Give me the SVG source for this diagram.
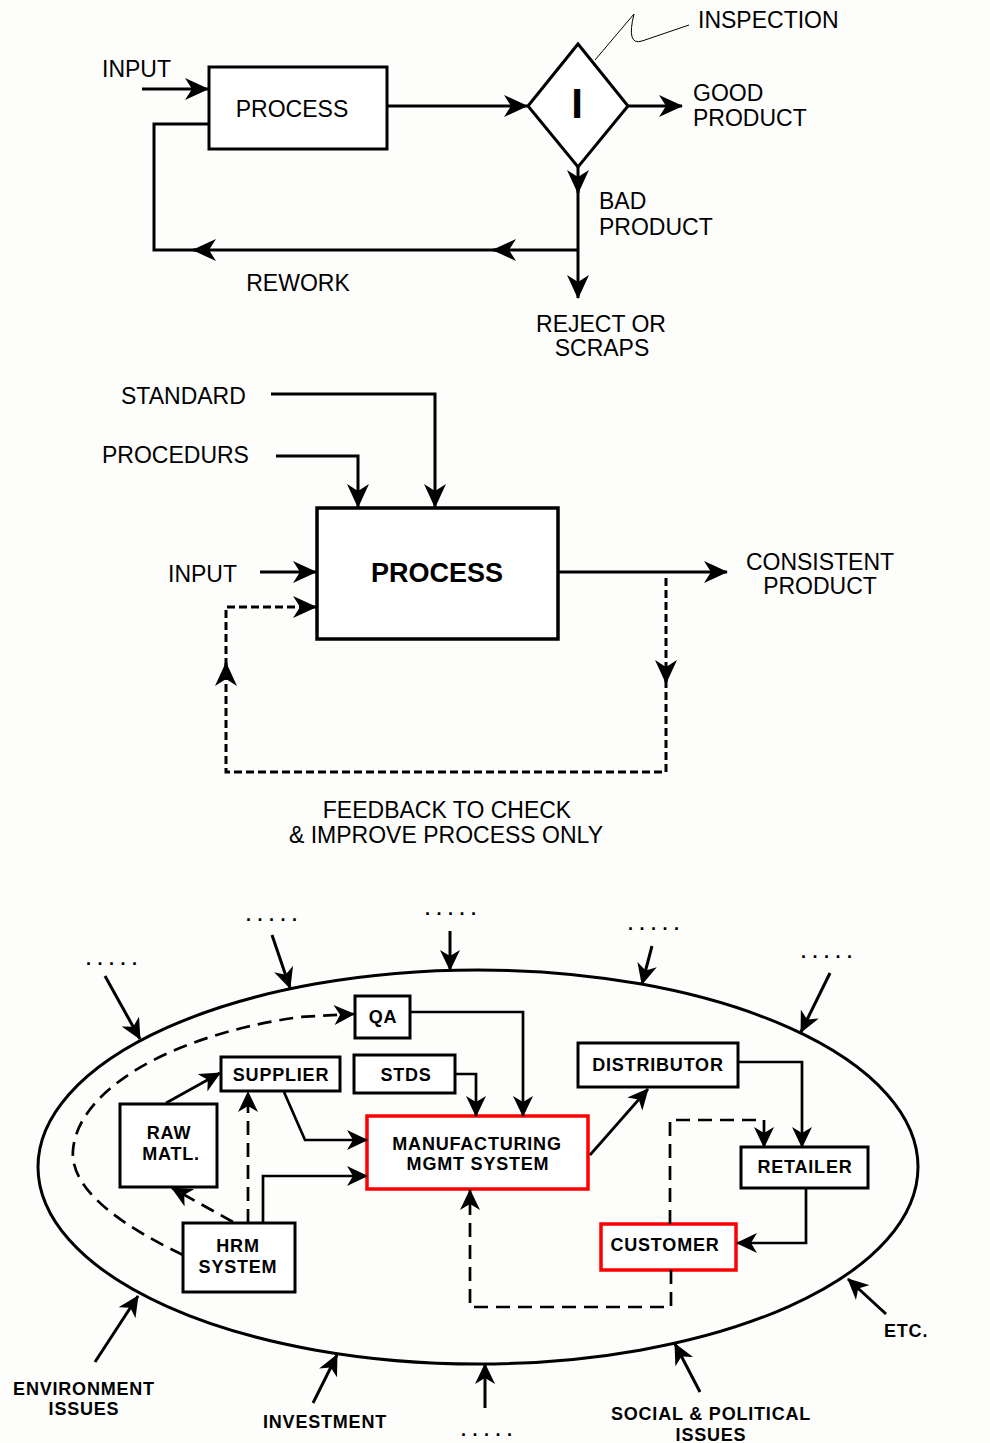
<svg xmlns="http://www.w3.org/2000/svg" width="990" height="1443" viewBox="0 0 990 1443">
<style>
.bg{fill:#fdfdfc}
.t{font-family:"Liberation Sans",Arial,sans-serif;font-size:23px;fill:#000}
.tb{font-family:"Liberation Sans",Arial,sans-serif;font-size:27px;font-weight:bold;fill:#000}
.s{font-family:"Liberation Sans",Arial,sans-serif;font-size:18px;font-weight:bold;letter-spacing:0.8px;fill:#000}
.dots{font-family:"Liberation Sans",Arial,sans-serif;font-size:18px;font-weight:bold;letter-spacing:6.5px;fill:#000}
.m{text-anchor:middle}
.ln{fill:none;stroke:#000;stroke-width:3}
.ln2{fill:none;stroke:#000;stroke-width:2.7}
.dash{fill:none;stroke:#000;stroke-width:3;stroke-dasharray:8,4}
.dash2{fill:none;stroke:#000;stroke-width:2.7;stroke-dasharray:14,8}
.box{fill:#fff;stroke:#000;stroke-width:3}
.rbox{fill:#fff;stroke:#f00;stroke-width:3.5}
.thin{fill:none;stroke:#000;stroke-width:1}
</style>
<defs>
<marker id="a" viewBox="0 0 24 22" markerWidth="24" markerHeight="22" refX="23" refY="11" orient="auto" markerUnits="userSpaceOnUse">
<path d="M0,0 L24,11 L0,22 L7,11 Z" fill="#000"/>
</marker>
<marker id="b" viewBox="0 0 21 20" markerWidth="21" markerHeight="20" refX="20" refY="10" orient="auto" markerUnits="userSpaceOnUse">
<path d="M0,0 L21,10 L0,20 L6,10 Z" fill="#000"/>
</marker>
</defs>
<rect class="bg" x="0" y="0" width="990" height="1443"/>

<!-- ===== TOP: inspection ===== -->
<g id="top-labels">
<text class="t" x="102" y="77">INPUT</text>
<text class="t" x="698" y="28">INSPECTION</text>
<text class="t" x="693" y="101">GOOD</text>
<text class="t" x="693" y="126">PRODUCT</text>
<text class="t" x="599" y="209">BAD</text>
<text class="t" x="599" y="235">PRODUCT</text>
<text class="t m" x="298" y="291">REWORK</text>
<text class="t m" x="601" y="332">REJECT OR</text>
<text class="t m" x="602" y="356">SCRAPS</text>
</g>
<g id="top-process">
<rect class="box" x="209" y="67" width="178" height="82"/>
<text class="t m" x="292" y="117">PROCESS</text>
</g>
<g id="top-inspection">
<polygon class="box" points="528,106 578,44 628,106 578,167"/>
<text x="577" y="118" font-family="Liberation Sans, Arial, sans-serif" font-size="42" font-weight="bold" text-anchor="middle">I</text>
</g>
<g id="top-connectors">
<path class="ln" d="M142,89 L208,89" marker-end="url(#a)"/>
<path class="ln" d="M387,106 L527,106" marker-end="url(#a)"/>
<path class="ln" d="M628,106 L682,106" marker-end="url(#a)"/>
<path class="ln" d="M578,167 L578,193" marker-end="url(#a)"/>
<path class="ln" d="M578,190 L578,298" marker-end="url(#a)"/>
<path class="ln" d="M578,250 L493,250" marker-end="url(#a)"/>
<path class="ln" d="M496,250 L193,250" marker-end="url(#a)"/>
<path class="ln" d="M196,250 L154,250 L154,124 L209,124"/>
<path class="thin" d="M595,60 L634,14 Q626,46 642,41 L689,25"/>
</g>

<!-- ===== MIDDLE: consistent process ===== -->
<g id="mid-labels">
<text class="t" x="121" y="404">STANDARD</text>
<text class="t" x="102" y="463">PROCEDURS</text>
<text class="t" x="168" y="582">INPUT</text>
<text class="t m" x="820" y="570">CONSISTENT</text>
<text class="t m" x="820" y="594">PRODUCT</text>
<text class="t m" x="447" y="818">FEEDBACK TO CHECK</text>
<text class="t m" x="446" y="843">&amp; IMPROVE PROCESS ONLY</text>
</g>
<g id="mid-process">
<rect class="box" x="317" y="508" width="241" height="131" style="stroke-width:3.5"/>
<text class="tb m" x="437" y="582">PROCESS</text>
</g>
<g id="mid-connectors">
<path class="ln" d="M271,394 L435,394 L435,507" marker-end="url(#a)"/>
<path class="ln" d="M276,456 L358,456 L358,507" marker-end="url(#a)"/>
<path class="ln" d="M260,572 L316,572" marker-end="url(#a)"/>
<path class="ln" d="M558,572 L727,572" marker-end="url(#a)"/>
<path class="dash" d="M666,578 L666,683" marker-end="url(#a)"/>
<path class="dash" d="M666,680 L666,772 L226,772 L226,663" marker-end="url(#a)"/>
<path class="dash" d="M226,666 L226,607 L316,607" marker-end="url(#a)"/>
</g>

<!-- ===== BOTTOM: system ===== -->
<g id="environment">
<ellipse cx="478" cy="1167" rx="440" ry="197" fill="none" stroke="#000" stroke-width="3"/>
</g>
<g id="external-labels">
<text class="dots" x="86" y="965">.....</text>
<text class="dots" x="246" y="921">.....</text>
<text class="dots" x="425" y="915">.....</text>
<text class="dots" x="628" y="930">.....</text>
<text class="dots" x="801" y="958">.....</text>
<text class="dots" x="461" y="1436">.....</text>
<text class="s m" x="84" y="1395">ENVIRONMENT</text>
<text class="s m" x="84" y="1415">ISSUES</text>
<text class="s m" x="325" y="1428">INVESTMENT</text>
<text class="s m" x="711" y="1420">SOCIAL &amp; POLITICAL</text>
<text class="s m" x="711" y="1441">ISSUES</text>
<text class="s" x="884" y="1337">ETC.</text>
</g>
<g id="qa">
<rect class="box" x="355" y="996" width="55" height="42"/>
<text class="s m" x="383" y="1023">QA</text>
</g>
<g id="supplier">
<rect class="box" x="221" y="1057" width="119" height="34"/>
<text class="s m" x="281" y="1081">SUPPLIER</text>
</g>
<g id="stds">
<rect class="box" x="354" y="1055" width="101" height="38"/>
<text class="s m" x="406" y="1081">STDS</text>
</g>
<g id="raw-matl">
<rect class="box" x="120" y="1104" width="97" height="83"/>
<text class="s m" x="169" y="1139">RAW</text>
<text class="s m" x="171" y="1160">MATL.</text>
</g>
<g id="mfg">
<rect class="rbox" x="367" y="1116" width="221" height="73"/>
<text class="s m" x="477" y="1150">MANUFACTURING</text>
<text class="s m" x="478" y="1170">MGMT SYSTEM</text>
</g>
<g id="distributor">
<rect class="box" x="578" y="1043" width="160" height="44"/>
<text class="s m" x="658" y="1071">DISTRIBUTOR</text>
</g>
<g id="retailer">
<rect class="box" x="741" y="1147" width="127" height="41"/>
<text class="s m" x="805" y="1173">RETAILER</text>
</g>
<g id="customer">
<rect class="rbox" x="601" y="1224" width="135" height="46"/>
<text class="s m" x="665" y="1251">CUSTOMER</text>
</g>
<g id="hrm">
<rect class="box" x="183" y="1223" width="112" height="69"/>
<text class="s m" x="238" y="1252">HRM</text>
<text class="s m" x="238" y="1273">SYSTEM</text>
</g>
<g id="bottom-connectors">
<path class="ln" d="M105,976 L140,1039" marker-end="url(#b)"/>
<path class="ln" d="M272,935 L290,988" marker-end="url(#b)"/>
<path class="ln" d="M450,931 L450,970" marker-end="url(#b)"/>
<path class="ln" d="M652,946 L642,984" marker-end="url(#b)"/>
<path class="ln" d="M830,973 L801,1032" marker-end="url(#b)"/>
<path class="ln" d="M886,1314 L848,1279" marker-end="url(#b)"/>
<path class="ln" d="M700,1392 L675,1344" marker-end="url(#b)"/>
<path class="ln" d="M485,1408 L485,1364" marker-end="url(#b)"/>
<path class="ln" d="M313,1403 L337,1355" marker-end="url(#b)"/>
<path class="ln" d="M95,1362 L138,1296" marker-end="url(#b)"/>

<path class="ln2" d="M410,1012 L523,1012 L523,1116" marker-end="url(#b)"/>
<path class="ln2" d="M455,1074 L476,1074 L476,1116" marker-end="url(#b)"/>
<path class="ln2" d="M284,1092 L305,1140 L367,1140" marker-end="url(#b)"/>
<path class="ln2" d="M263,1223 L263,1176 L367,1176" marker-end="url(#b)"/>
<path class="ln2" d="M166,1103 L220,1073" marker-end="url(#b)"/>
<path class="ln2" d="M590,1155 L648,1089" marker-end="url(#b)"/>
<path class="ln2" d="M738,1062 L802,1062 L802,1147" marker-end="url(#b)"/>
<path class="ln2" d="M806,1188 L806,1243 L737,1243" marker-end="url(#b)"/>

<path class="dash2" d="M248,1223 L248,1092" marker-end="url(#b)"/>
<path class="dash2" d="M233,1222 L172,1188" marker-end="url(#b)"/>
<path class="dash2" d="M183,1255 C110,1220 70,1185 73,1150 C78,1090 170,1035 300,1017 L354,1014" marker-end="url(#b)"/>
<path class="dash2" d="M670,1224 L670,1120 L764,1120 L764,1147" marker-end="url(#b)"/>
<path class="dash2" d="M671,1270 L671,1307 L470,1307 L470,1190" marker-end="url(#b)"/>
</g>
</svg>
